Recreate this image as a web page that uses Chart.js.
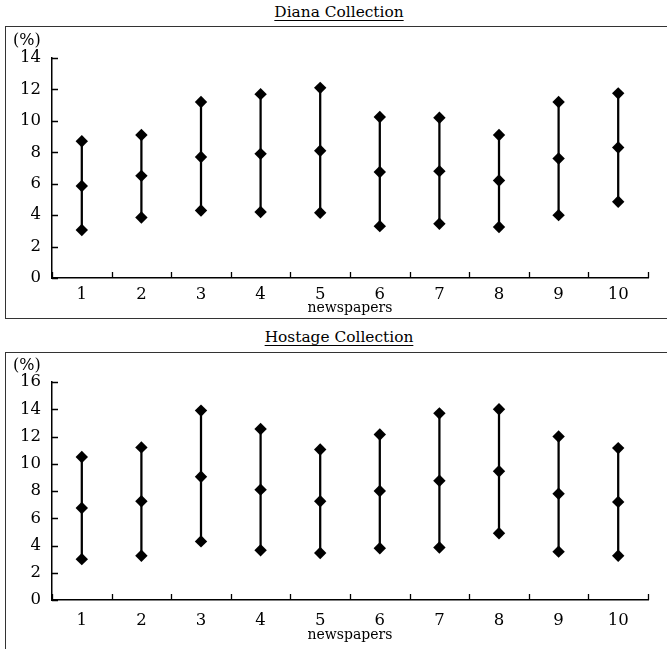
<!DOCTYPE html>
<html>
<head>
<meta charset="utf-8">
<script src="https://cdn.jsdelivr.net/npm/chart.js@4"></script>
<style>
  html, body { margin: 0; padding: 0; background: #fff; }
  body { width: 667px; height: 649px; position: relative; overflow: hidden; font-family: "DejaVu Serif", serif; color: #000; }
  .title { position: absolute; left: 0; width: 678px; text-align: center; font-size: 15.4px; line-height: 18px; text-decoration: underline; text-underline-offset: 3px; }
  .frame { position: absolute; left: 5px; width: 680px; border: 1px solid #333; box-sizing: border-box; }
  .unit { position: absolute; left: 13px; font-size: 16px; line-height: 19px; }
  .frame canvas { position: absolute; left: 0; top: 0; }
</style>
</head>
<body>
<div class="title" style="top:3px;">Diana Collection</div>
<div class="frame" style="top:26px; height:293px;">
  <div style="position:absolute; left:0; top:0; width:662px; height:291px;"><canvas id="dianaChart"></canvas></div>
</div>
<div class="unit" style="top:30px;">(%)</div>

<div class="title" style="top:328px;">Hostage Collection</div>
<div class="frame" style="top:352px; height:300px;">
  <div style="position:absolute; left:0; top:0; width:662px; height:292px;"><canvas id="hostageChart"></canvas></div>
</div>
<div class="unit" style="top:355px;">(%)</div>

<script>
document.addEventListener("DOMContentLoaded", function () {
    const newspapers = ['1', '2', '3', '4', '5', '6', '7', '8', '9', '10'];

    // Diana collection: high / mean / low share per newspaper (%)
    const dianaHigh = [8.7, 9.1, 11.2, 11.7, 12.1, 10.25, 10.2, 9.1, 11.2, 11.75];
    const dianaMid  = [5.85, 6.5, 7.7, 7.9, 8.1, 6.75, 6.8, 6.2, 7.6, 8.3];
    const dianaLow  = [3.05, 3.85, 4.3, 4.2, 4.15, 3.3, 3.45, 3.25, 4.0, 4.85];

    // Hostage collection
    const hostageHigh = [10.5, 11.2, 13.9, 12.55, 11.05, 12.15, 13.7, 14.0, 12.0, 11.15];
    const hostageMid  = [6.75, 7.25, 9.05, 8.1, 7.25, 8.0, 8.75, 9.45, 7.8, 7.2];
    const hostageLow  = [3.0, 3.25, 4.3, 3.65, 3.45, 3.8, 3.85, 4.9, 3.55, 3.25];

    const tickFont = { family: "'DejaVu Serif', serif", size: 16.5 };
    const titleFont = { family: "'DejaVu Serif', serif", size: 14 };

    // short tick marks drawn inside the plot area
    const innerTicks = {
        id: 'innerTicks',
        afterDraw(chart) {
            const { ctx, chartArea, scales } = chart;
            ctx.save();
            ctx.strokeStyle = '#000';
            ctx.lineWidth = 1.3;
            ctx.beginPath();
            scales.y.ticks.forEach(t => {
                const py = Math.round(scales.y.getPixelForValue(t.value)) + 0.5;
                ctx.moveTo(chartArea.left, py);
                ctx.lineTo(chartArea.left + 6, py);
            });
            for (let i = 0; i <= newspapers.length; i++) {
                const px = Math.round(scales.x.getPixelForValue(i - 0.5)) + 0.5;
                ctx.moveTo(px, chartArea.bottom);
                ctx.lineTo(px, chartArea.bottom - 6);
            }
            ctx.stroke();
            ctx.restore();
        }
    };

    function makeChart(id, high, mid, low, yMax, box) {
        const points = arr => ({
            type: 'line',
            data: arr,
            showLine: false,
            pointStyle: 'rectRot',
            pointRadius: 6.2,
            pointBackgroundColor: '#000',
            pointBorderColor: '#000',
            pointBorderWidth: 0,
            order: 1
        });
        new Chart(document.getElementById(id).getContext('2d'), {
            type: 'bar',
            data: {
                labels: newspapers,
                datasets: [
                    {
                        // vertical range line from low to high
                        data: low.map((v, i) => [v, high[i]]),
                        backgroundColor: '#000',
                        barThickness: 1.6,
                        order: 2
                    },
                    points(high),
                    points(mid),
                    points(low)
                ]
            },
            options: {
                responsive: true,
                maintainAspectRatio: false,
                animation: false,
                layout: { padding: { top: box.top, right: 20, left: 0, bottom: 0 } },
                plugins: { legend: { display: false }, tooltip: { enabled: false } },
                scales: {
                    x: {
                        grid: { display: false, drawTicks: false },
                        border: { color: '#000', width: 1.5 },
                        ticks: { color: '#000', font: tickFont, padding: box.tickPad },
                        title: { display: true, text: 'newspapers', color: '#000', font: titleFont, padding: { top: 0, bottom: box.titlePad } },
                        afterFit(scale) { scale.height = box.xHeight; }
                    },
                    y: {
                        min: 0,
                        max: yMax,
                        ticks: { stepSize: 2, color: '#000', font: tickFont, padding: 11 },
                        grid: { display: false, drawTicks: false },
                        border: { color: '#000', width: 1.5 },
                        afterFit(scale) { scale.width = 46; }
                    }
                }
            },
            plugins: [innerTicks]
        });
    }

    makeChart('dianaChart', dianaHigh, dianaMid, dianaLow, 14, { top: 31, tickPad: 7, xHeight: 40, titlePad: 1 });
    makeChart('hostageChart', hostageHigh, hostageMid, hostageLow, 16, { top: 29, tickPad: 11, xHeight: 45, titlePad: 1 });
});
</script>
</body>
</html>
